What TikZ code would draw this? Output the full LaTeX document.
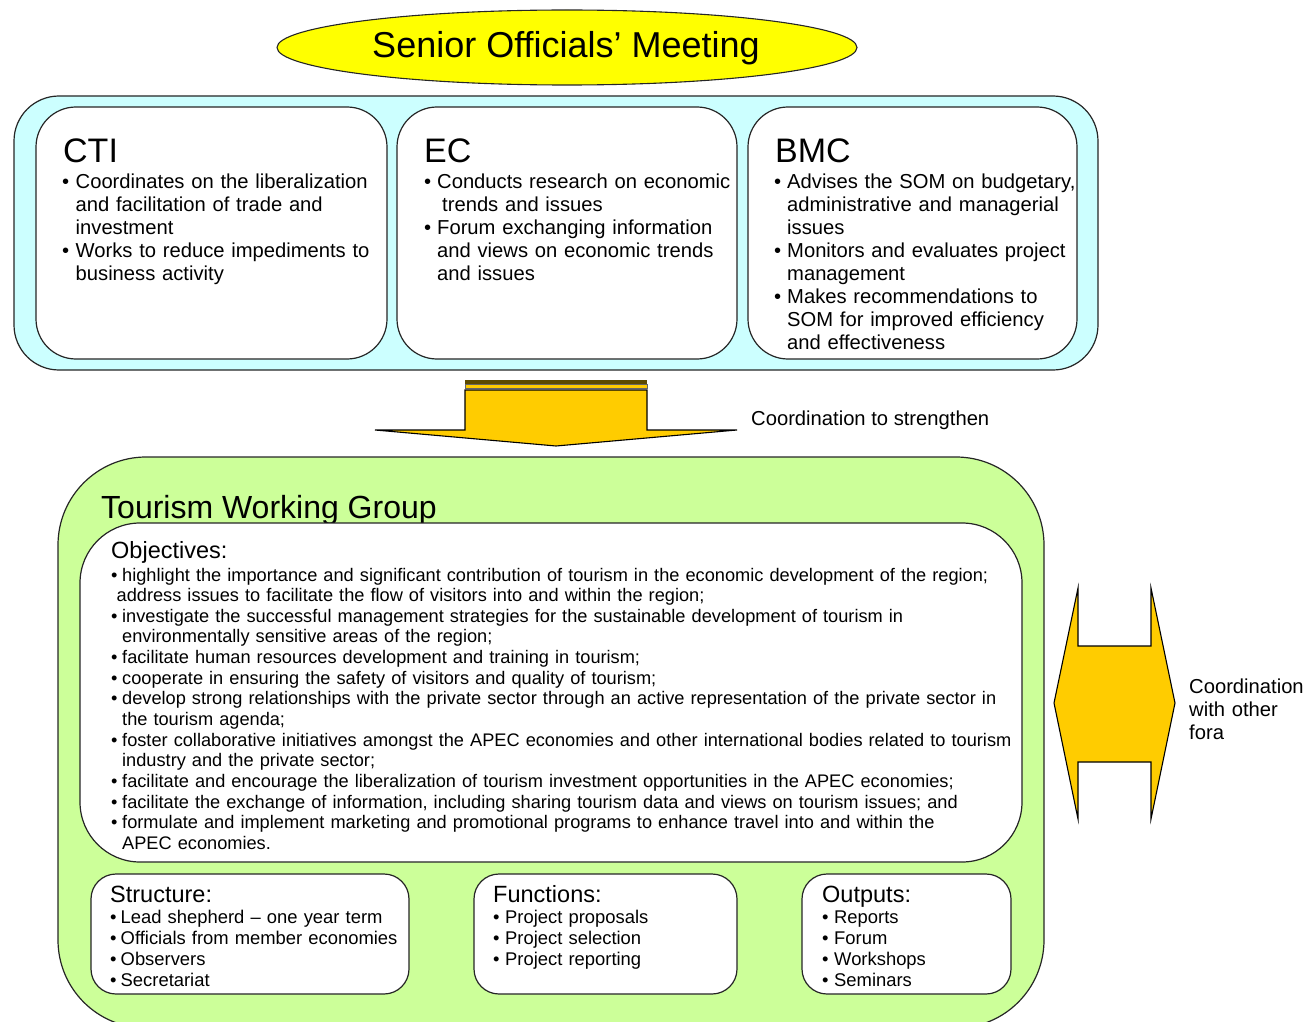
\documentclass[tikz,border=0pt]{standalone}
\usepackage{fontspec}
\setmainfont{Liberation Sans}
\usetikzlibrary{shapes.geometric}
\definecolor{cyanbg}{HTML}{CCFFFF}
\definecolor{greenbg}{HTML}{CCFF99}
\definecolor{somyellow}{HTML}{FFFF00}
\definecolor{arrowgold}{HTML}{FFCC00}
\definecolor{bandbrown}{HTML}{5C4A00}
\setlength\parindent{0pt}
\newlength\bulw
\newcommand\bitem[1]{\noindent\hangindent=\bulw\hangafter=1\makebox[\bulw][l]{•}#1\par}
\tikzset{
  panel/.style={draw=black!85, line width=1.2pt, inner sep=0pt, rectangle},
  bigtitle/.style={inner sep=0pt, anchor=base west, font=\fontsize{34}{40}\selectfont},
  bodytext/.style={inner sep=0pt, anchor=base west, align=left, font=\fontsize{20.2}{23}\selectfont},
  smalltext/.style={inner sep=0pt, anchor=base west, align=left, font=\fontsize{18.2}{20.65}\selectfont},
  boxtext/.style={inner sep=0pt, anchor=base west, align=left, font=\fontsize{18.4}{21}\selectfont},
  subhead/.style={inner sep=0pt, anchor=base west, font=\fontsize{23.5}{28}\selectfont},
  label/.style={inner sep=0pt, anchor=base west, align=left, font=\fontsize{20.2}{23}\selectfont},
  arrowshape/.style={fill=arrowgold, draw=black, line width=1.1pt, line join=miter},
}
\begin{document}
\begin{tikzpicture}[x=1pt,y=-1pt]
\useasboundingbox (0,0) rectangle (1307,1022);

% Senior Officials' Meeting
\node[ellipse, draw=black!85, line width=1.1pt, fill=somyellow, minimum width=580, minimum height=75, inner sep=0pt] (som) at (567,47.5) {};
\node[inner sep=0pt, anchor=base, font=\fontsize{36}{40}\selectfont] (somtext) at (566,58) {Senior Officials’ Meeting};

% Upper committees
\node[panel, fill=cyanbg, rounded corners=45, minimum width=1084, minimum height=274] (upper) at (556,233) {};
\node[panel, fill=white, rounded corners=40, minimum width=351, minimum height=252] (cti) at (211.5,233) {};
\node[panel, fill=white, rounded corners=40, minimum width=340, minimum height=252] (ec) at (567,233) {};
\node[panel, fill=white, rounded corners=40, minimum width=329, minimum height=252] (bmc) at (912.5,233) {};

\node[bigtitle] (ctititle) at (63,163) {CTI};
\node[bodytext, text width=320] (ctibody) at (62,189) {\setlength\bulw{13.5pt}%
\bitem{Coordinates on the liberalization\newline and facilitation of trade and\newline investment}%
\bitem{Works to reduce impediments to\newline business activity}};

\node[bigtitle] (ectitle) at (424,163) {EC};
\node[bodytext, text width=320] (ecbody) at (424,189) {\setlength\bulw{13pt}%
\bitem{Conducts research on economic\newline \hspace*{5pt}trends and issues}%
\bitem{Forum exchanging information\newline and views on economic trends\newline and issues}};

\node[bigtitle] (bmctitle) at (775,163) {BMC};
\node[bodytext, text width=320] (bmcbody) at (774,189) {\setlength\bulw{13pt}%
\bitem{Advises the SOM on budgetary,\newline administrative and managerial\newline issues}%
\bitem{Monitors and evaluates project\newline management}%
\bitem{Makes recommendations to\newline SOM for improved efficiency\newline and effectiveness}};

% Down arrow
\fill[bandbrown] (465,380) rectangle (647,383.5);
\draw[fill=arrowgold, draw=black!60, line width=0.8pt] (465,384.8) rectangle (647,388);
\draw[arrowshape] (465,390) -- (647,390) -- (647,430) -- (737,430) -- (556,446) -- (375,430) -- (465,430) -- cycle;
\node[label] (coordlabel) at (751,425) {Coordination to strengthen};

% Tourism Working Group
\node[panel, fill=greenbg, rounded corners=88, minimum width=986, minimum height=571] (twg) at (551,742.5) {};
\node[inner sep=0pt, anchor=base west, font=\fontsize{32}{38}\selectfont] (twgtitle) at (101,518) {Tourism Working Group};

\node[panel, fill=white, rounded corners=60, minimum width=942, minimum height=339] (obj) at (551,692.5) {};
\node[subhead] (objtitle) at (111,558) {Objectives:};
\node[smalltext, text width=920] (objbody) at (111,581) {\setlength\bulw{11pt}%
\bitem{highlight the importance and significant contribution of tourism in the economic development of the region;}%
\noindent\hspace*{5.5pt}address issues to facilitate the flow of visitors into and within the region;\par
\bitem{investigate the successful management strategies for the sustainable development of tourism in\newline environmentally sensitive areas of the region;}%
\bitem{facilitate human resources development and training in tourism;}%
\bitem{cooperate in ensuring the safety of visitors and quality of tourism;}%
\bitem{develop strong relationships with the private sector through an active representation of the private sector in\newline the tourism agenda;}%
\bitem{foster collaborative initiatives amongst the APEC economies and other international bodies related to tourism\newline industry and the private sector;}%
\bitem{facilitate and encourage the liberalization of tourism investment opportunities in the APEC economies;}%
\bitem{facilitate the exchange of information, including sharing tourism data and views on tourism issues; and}%
\bitem{formulate and implement marketing and promotional programs to enhance travel into and within the\newline APEC economies.}};

\node[panel, fill=white, rounded corners=25, minimum width=318, minimum height=120] (struct) at (250,934) {};
\node[subhead] (structtitle) at (110,902) {Structure:};
\node[boxtext, text width=300] (structbody) at (110,923) {\setlength\bulw{10.5pt}%
\bitem{Lead shepherd – one year term}%
\bitem{Officials from member economies}%
\bitem{Observers}%
\bitem{Secretariat}};

\node[panel, fill=white, rounded corners=25, minimum width=263, minimum height=120] (func) at (605.5,934) {};
\node[subhead] (functitle) at (493,902) {Functions:};
\node[boxtext, text width=240] (funcbody) at (493,923) {\setlength\bulw{12pt}%
\bitem{Project proposals}%
\bitem{Project selection}%
\bitem{Project reporting}};

\node[panel, fill=white, rounded corners=25, minimum width=209, minimum height=120] (outp) at (906.5,934) {};
\node[subhead] (outptitle) at (822,902) {Outputs:};
\node[boxtext, text width=180] (outpbody) at (822,923) {\setlength\bulw{12pt}%
\bitem{Reports}%
\bitem{Forum}%
\bitem{Workshops}%
\bitem{Seminars}};

% Double arrow
\draw[arrowshape] (1078,588) -- (1078,646) -- (1151,646) -- (1151,588) -- (1175,703) -- (1151,819) -- (1151,762) -- (1078,762) -- (1078,819) -- (1054,703) -- cycle;
\node[label, text width=130] (foralabel) at (1189,693) {Coordination\\with other\\fora};
\end{tikzpicture}
\end{document}
